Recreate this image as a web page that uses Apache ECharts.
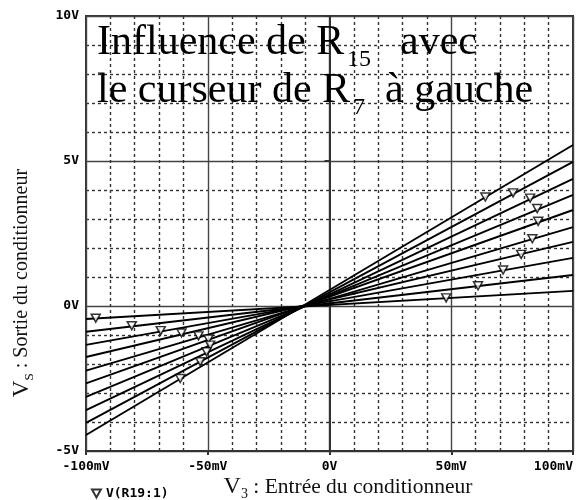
<!DOCTYPE html>
<html>
<head>
<meta charset="utf-8">
<script src="https://cdn.jsdelivr.net/npm/echarts@6/dist/echarts.min.js"></script>
<style>
html,body{margin:0;padding:0;background:#fff;}
#chart{width:576px;height:500px;}
</style>
</head>
<body>
<div id="chart"></div>
<script>
// x values in mV, y values in V
const xEnds = [-100, 100];
const leftValues  = [-0.45, -0.89, -1.34, -1.76, -2.23, -2.67, -3.13, -3.59, -4.03, -4.45];
const rightValues = [0.52, 1.07, 1.66, 2.21, 2.72, 3.31, 3.83, 4.38, 4.97, 5.55];
const markerLeftX  = [-96.0, -81.2, -69.3, -60.8, -53.8, -49.7, -49.0, -50.5, -53.1, -61.3];
const markerLeftY  = [-0.42, -0.68, -0.85, -0.93, -1.03, -1.14, -1.35, -1.58, -1.92, -2.50];
const markerRightX = [47.9, 61.0, 71.3, 78.7, 83.3, 85.7, 85.3, 82.4, 75.4, 64.0];
const markerRightY = [0.28, 0.70, 1.24, 1.78, 2.32, 2.92, 3.36, 3.72, 3.90, 3.76];
const xTicks = [-100, -50, 0, 50, 100];
const yTicks = [-5, 0, 5, 10];
const traceName = 'V(R19:1)';

const chart = echarts.init(document.getElementById('chart'), null, {renderer: 'canvas'});

const lineSeries = leftValues.map((l, i) => ({
  type: 'line',
  data: [[xEnds[0], l], [xEnds[1], rightValues[i]]],
  symbol: 'none',
  lineStyle: {color: '#000', width: 1.9},
  silent: true,
  animation: false,
  z: 3
}));

const markerData = [];
for (let i = 0; i < markerLeftX.length; i++) markerData.push([markerLeftX[i], markerLeftY[i]]);
for (let i = 0; i < markerRightX.length; i++) markerData.push([markerRightX[i], markerRightY[i]]);

const triPath = 'path://M0,0 L10,0 L5,9 Z';
const monoLabel = {fontFamily: 'DejaVu Sans Mono', fontWeight: 'bold', fontSize: 13, color: '#000'};
const serif = 'Liberation Serif';

chart.setOption({
  animation: false,
  backgroundColor: '#fff',
  grid: {left: 86, right: 3, top: 16, bottom: 49, show: true, borderColor: '#333', borderWidth: 2},
  legend: {
    data: [traceName],
    left: 86, top: 482,
    icon: triPath,
    itemWidth: 9, itemHeight: 8, itemGap: 6,
    textStyle: {fontFamily: 'DejaVu Sans Mono', fontWeight: 'bold', fontSize: 13, color: '#000'}
  },
  xAxis: {
    type: 'value', min: xTicks[0], max: xTicks[xTicks.length - 1], interval: 50,
    axisLine: {onZero: false, lineStyle: {color: '#333', width: 2}},
    axisTick: {show: true, length: 4, lineStyle: {color: '#333', width: 2}},
    axisLabel: Object.assign({margin: 9, alignMaxLabel: 'right', formatter: v => v === 0 ? '0V' : v + 'mV'}, monoLabel),
    splitLine: {show: true, lineStyle: {color: '#444', width: 1.4}},
    minorTick: {show: false, splitNumber: 5},
    minorSplitLine: {show: true, lineStyle: {color: '#333', width: 1.4, type: [3, 3]}}
  },
  yAxis: {
    type: 'value', min: yTicks[0], max: yTicks[yTicks.length - 1], interval: 5,
    axisLine: {lineStyle: {color: '#333', width: 2}},
    axisTick: {show: true, length: 5, lineStyle: {color: '#333', width: 2}},
    axisLabel: Object.assign({margin: 7, formatter: v => v + 'V'}, monoLabel),
    splitLine: {show: true, lineStyle: {color: '#444', width: 1.4}},
    minorTick: {show: false, splitNumber: 5},
    minorSplitLine: {show: true, lineStyle: {color: '#333', width: 1.4, type: [3, 3]}}
  },
  series: lineSeries.concat([{
    type: 'scatter',
    name: traceName,
    data: markerData,
    symbol: triPath,
    symbolSize: [9, 8],
    itemStyle: {color: '#fff', borderColor: '#000', borderWidth: 1.5},
    z: 5,
    silent: true
  }]),
  graphic: [
    {type: 'text', x: 97, y: 22, z: 10, style: {text: 'Influence de R', font: '42px "' + serif + '"', fill: '#000', align: 'left', verticalAlign: 'top'}},
    {type: 'text', x: 347, y: 48, z: 10, style: {text: '15', font: '24px "' + serif + '"', fill: '#000', align: 'left', verticalAlign: 'top'}},
    {type: 'text', x: 400, y: 22, z: 10, style: {text: 'avec', font: '42px "' + serif + '"', fill: '#000', align: 'left', verticalAlign: 'top'}},
    {type: 'text', x: 97, y: 70, z: 10, style: {text: 'le curseur de R', font: '42px "' + serif + '"', fill: '#000', align: 'left', verticalAlign: 'top'}},
    {type: 'text', x: 353, y: 96, z: 10, style: {text: '7', font: '24px "' + serif + '"', fill: '#000', align: 'left', verticalAlign: 'top'}},
    {type: 'text', x: 385, y: 70, z: 10, style: {text: 'à gauche', font: '42px "' + serif + '"', fill: '#000', align: 'left', verticalAlign: 'top'}},
    {type: 'text', x: 22, y: 283, rotation: Math.PI / 2, z: 10, style: {
      text: '{v|V}{s|S}{t| : Sortie du conditionneur}',
      align: 'center', verticalAlign: 'middle', fill: '#111',
      rich: {
        v: {fontFamily: serif, fontSize: 23, lineHeight: 28, fill: '#111'},
        s: {fontFamily: serif, fontSize: 13, lineHeight: 13, verticalAlign: 'bottom', fill: '#111'},
        t: {fontFamily: serif, fontSize: 20, fill: '#111'}
      }
    }},
    {type: 'text', x: 348, y: 487, z: 10, style: {
      text: '{v|V}{s|3}{t| : Entrée du conditionneur}',
      align: 'center', verticalAlign: 'middle', fill: '#111',
      rich: {
        v: {fontFamily: serif, fontSize: 24, lineHeight: 28, fill: '#111'},
        s: {fontFamily: serif, fontSize: 14, lineHeight: 13, verticalAlign: 'bottom', fill: '#111'},
        t: {fontFamily: serif, fontSize: 21.5, fill: '#111'}
      }
    }}
  ]
});
</script>
</body>
</html>
